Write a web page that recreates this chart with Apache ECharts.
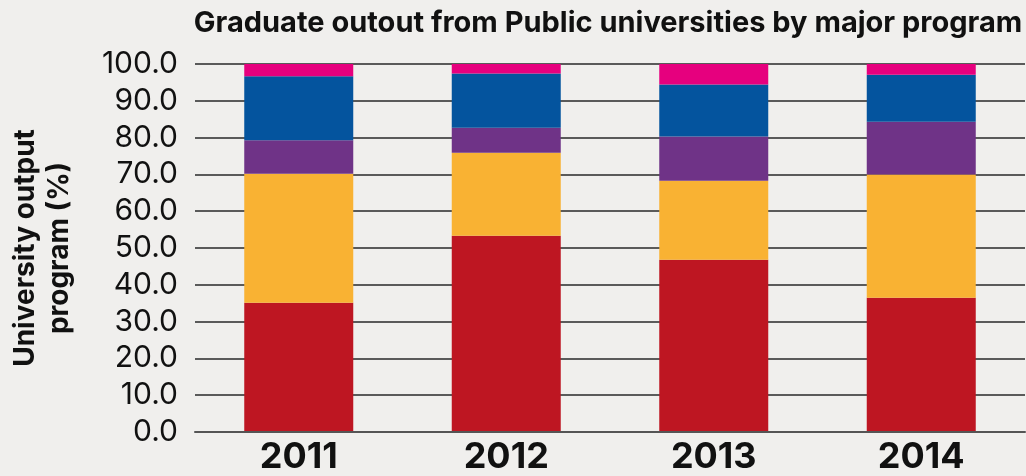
<!DOCTYPE html>
<html>
<head>
<meta charset="utf-8">
<style>
html,body{margin:0;padding:0;background:#F0EFED;}
#c{width:1026px;height:476px;}
</style>
<script src="https://cdn.jsdelivr.net/npm/echarts@6/dist/echarts.min.js"></script>
</head>
<body>
<div id="c"></div>
<script>
const categories = ['2011', '2012', '2013', '2014'];
const seriesNames = ['Program A', 'Program B', 'Program C', 'Program D', 'Program E'];
const redValues = [35.1, 53.3, 46.8, 36.5];
const orangeValues = [35.1, 22.6, 21.5, 33.5];
const purpleValues = [9.1, 6.8, 12.0, 14.3];
const blueValues = [17.4, 14.7, 14.1, 12.8];
const pinkValues = [3.3, 2.6, 5.6, 2.9];
const colors = ['#BE1622', '#F9B233', '#6F3387', '#04549E', '#E6007E'];
const allValues = [redValues, orangeValues, purpleValues, blueValues, pinkValues];

const chart = echarts.init(document.getElementById('c'));
chart.setOption({
  backgroundColor: '#F0EFED',
  animation: false,
  title: {
    text: 'Graduate outout from Public universities by major program',
    left: 603, top: 4, textAlign: 'center',
    textStyle: {fontFamily: 'Inter', fontWeight: 'bold', fontSize: 29, color: '#111'}
  },
  grid: {left: 195, right: 1, top: 64, bottom: 44, containLabel: false, outerBoundsMode: 'none'},
  xAxis: {
    type: 'category', data: categories, z: 5,
    axisLine: {show: true, lineStyle: {color: '#555', width: 2}},
    axisTick: {show: false},
    axisLabel: {fontFamily: 'Inter', fontWeight: 'bold', fontSize: 36, color: '#111', margin: 7}
  },
  yAxis: {
    type: 'value', min: 0, max: 100, interval: 10,
    name: 'University output\nprogram (%)',
    nameLocation: 'middle', nameRotate: 90, nameGap: 118,
    nameTextStyle: {fontFamily: 'Inter', fontWeight: 'bold', fontSize: 28, color: '#111', lineHeight: 34},
    axisLine: {show: false}, axisTick: {show: false},
    splitLine: {lineStyle: {color: '#5a5a5a', width: 2}},
    axisLabel: {fontFamily: 'Inter', fontSize: 30, color: '#111', margin: 17,
      formatter: v => v.toFixed(1)}
  },
  series: allValues.map((vals, i) => ({
    name: seriesNames[i], type: 'bar', stack: 'total', data: vals,
    barWidth: 109, itemStyle: {color: colors[i]}
  }))
});
</script>
</body>
</html>
